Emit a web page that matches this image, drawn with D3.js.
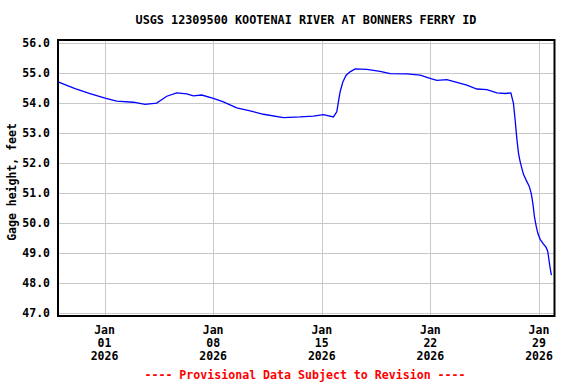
<!DOCTYPE html>
<html><head><meta charset="utf-8">
<script src="https://cdn.jsdelivr.net/npm/d3@7"></script>
<style>
html,body{margin:0;padding:0;background:#fff;}
text{font-family:"DejaVu Sans Mono","Liberation Mono",monospace;font-weight:bold;}
</style></head>
<body><svg id="chart" width="576" height="384"></svg>
<script>
const title = "USGS 12309500 KOOTENAI RIVER AT BONNERS FERRY ID";
const yLabel = "Gage height, feet";
const footer = "---- Provisional Data Subject to Revision ----";
const yTicks = [47, 48, 49, 50, 51, 52, 53, 54, 55, 56];
const xTicks = ["2026-01-01T00:00", "2026-01-08T00:00", "2026-01-15T00:00", "2026-01-22T00:00", "2026-01-29T00:00"];
const xDomain = ["2025-12-29T00:00", "2026-01-30T00:00"];
const yDomain = [46.91, 56.09];
const times = [
 "2025-12-29T00:00","2025-12-30T02:24","2025-12-31T01:30","2026-01-01T00:45","2026-01-01T18:45",
 "2026-01-02T20:30","2026-01-03T14:40","2026-01-04T08:40","2026-01-05T00:15","2026-01-05T15:40",
 "2026-01-06T07:10","2026-01-06T17:20","2026-01-07T06:20","2026-01-08T00:15","2026-01-08T15:50",
 "2026-01-09T12:30","2026-01-10T09:10","2026-01-11T05:45","2026-01-12T12:40","2026-01-13T14:25",
 "2026-01-14T11:00","2026-01-15T02:35","2026-01-15T18:00","2026-01-15T23:15","2026-01-16T01:45",
 "2026-01-16T04:20","2026-01-16T08:35","2026-01-16T13:40","2026-01-16T19:50","2026-01-17T03:35",
 "2026-01-17T21:40","2026-01-18T18:15","2026-01-19T09:50","2026-01-20T11:35","2026-01-21T08:10",
 "2026-01-21T23:35","2026-01-22T10:00","2026-01-23T01:30","2026-01-23T17:00","2026-01-24T08:25",
 "2026-01-25T00:00","2026-01-25T15:25","2026-01-26T06:50","2026-01-26T19:40","2026-01-27T04:30",
 "2026-01-27T08:30","2026-01-27T11:10","2026-01-27T13:45","2026-01-27T16:20","2026-01-27T18:55",
 "2026-01-27T21:30","2026-01-28T00:00","2026-01-28T04:10","2026-01-28T08:50","2026-01-28T12:00",
 "2026-01-28T14:35","2026-01-28T17:00","2026-01-28T19:40","2026-01-28T22:15","2026-01-29T01:50",
 "2026-01-29T07:00","2026-01-29T11:05","2026-01-29T13:40","2026-01-29T15:50","2026-01-29T17:20",
 "2026-01-29T19:15"
];
const heights = [
 54.70,54.47,54.31,54.16,54.06,
 54.02,53.95,53.99,54.22,54.33,
 54.30,54.23,54.26,54.15,54.03,
 53.83,53.73,53.62,53.51,53.53,
 53.56,53.61,53.53,53.70,54.03,
 54.36,54.69,54.92,55.03,55.13,
 55.11,55.05,54.97,54.96,54.92,
 54.81,54.75,54.77,54.68,54.59,
 54.46,54.44,54.33,54.31,54.33,
 53.98,53.42,52.81,52.32,52.04,
 51.82,51.62,51.43,51.23,50.99,
 50.65,50.21,49.90,49.66,49.46,
 49.30,49.19,49.05,48.71,48.49,
 48.27
];

const parse = d3.timeParse("%Y-%m-%dT%H:%M");
const data = times.map((t, i) => ({t: parse(t), v: heights[i]}));
const L = 58, R = 554.5, T = 40, B = 316;
const svg = d3.select("#chart");
const x = d3.scaleTime().domain(xDomain.map(parse)).range([L, R]);
const y = d3.scaleLinear().domain(yDomain).range([B, T]);

// grid
const grid = svg.append("g").attr("stroke", "#c8c8c8").attr("stroke-width", 1);
grid.selectAll("line.h").data(yTicks).join("line")
  .attr("x1", L).attr("x2", R).attr("y1", d => Math.round(y(d)) + 0.5).attr("y2", d => Math.round(y(d)) + 0.5);
grid.selectAll("line.v").data(xTicks.map(parse)).join("line")
  .attr("y1", T).attr("y2", B).attr("x1", d => Math.round(x(d)) + 0.5).attr("x2", d => Math.round(x(d)) + 0.5);

// line
svg.append("path").datum(data)
  .attr("fill", "none").attr("stroke", "#0000ff").attr("stroke-width", 1.3)
  .attr("d", d3.line().x(d => x(d.t)).y(d => y(d.v)));

// frame
svg.append("rect").attr("x", L).attr("y", T).attr("width", R - L).attr("height", B - T)
  .attr("fill", "none").attr("stroke", "#000").attr("stroke-width", 2);

// y tick labels
svg.append("g").selectAll("text").data(yTicks).join("text")
  .attr("x", 50).attr("y", d => y(d) + 4).attr("text-anchor", "end")
  .attr("font-size", "11.5px").text(d3.format(".1f"));

// x tick labels
const fmtMon = d3.timeFormat("%b"), fmtDay = d3.timeFormat("%d"), fmtYr = d3.timeFormat("%Y");
const xg = svg.append("g").selectAll("g").data(xTicks.map(parse)).join("g");
[[fmtMon, 334], [fmtDay, 347], [fmtYr, 360]].forEach(([f, yy]) => {
  xg.append("text").attr("x", d => x(d)).attr("y", yy).attr("text-anchor", "middle")
    .attr("font-size", "11.5px").text(f);
});

// title
svg.append("text").attr("x", 306).attr("y", 24).attr("text-anchor", "middle")
  .attr("font-size", "11.8px").text(title);
// y label
svg.append("text").attr("transform", "translate(16,182) rotate(-90)").attr("text-anchor", "middle")
  .attr("font-size", "11.5px").text(yLabel);
// footer
svg.append("text").attr("x", 305).attr("y", 379).attr("text-anchor", "middle")
  .attr("font-size", "11.6px").attr("fill", "#ff0000").text(footer);
</script></body></html>
